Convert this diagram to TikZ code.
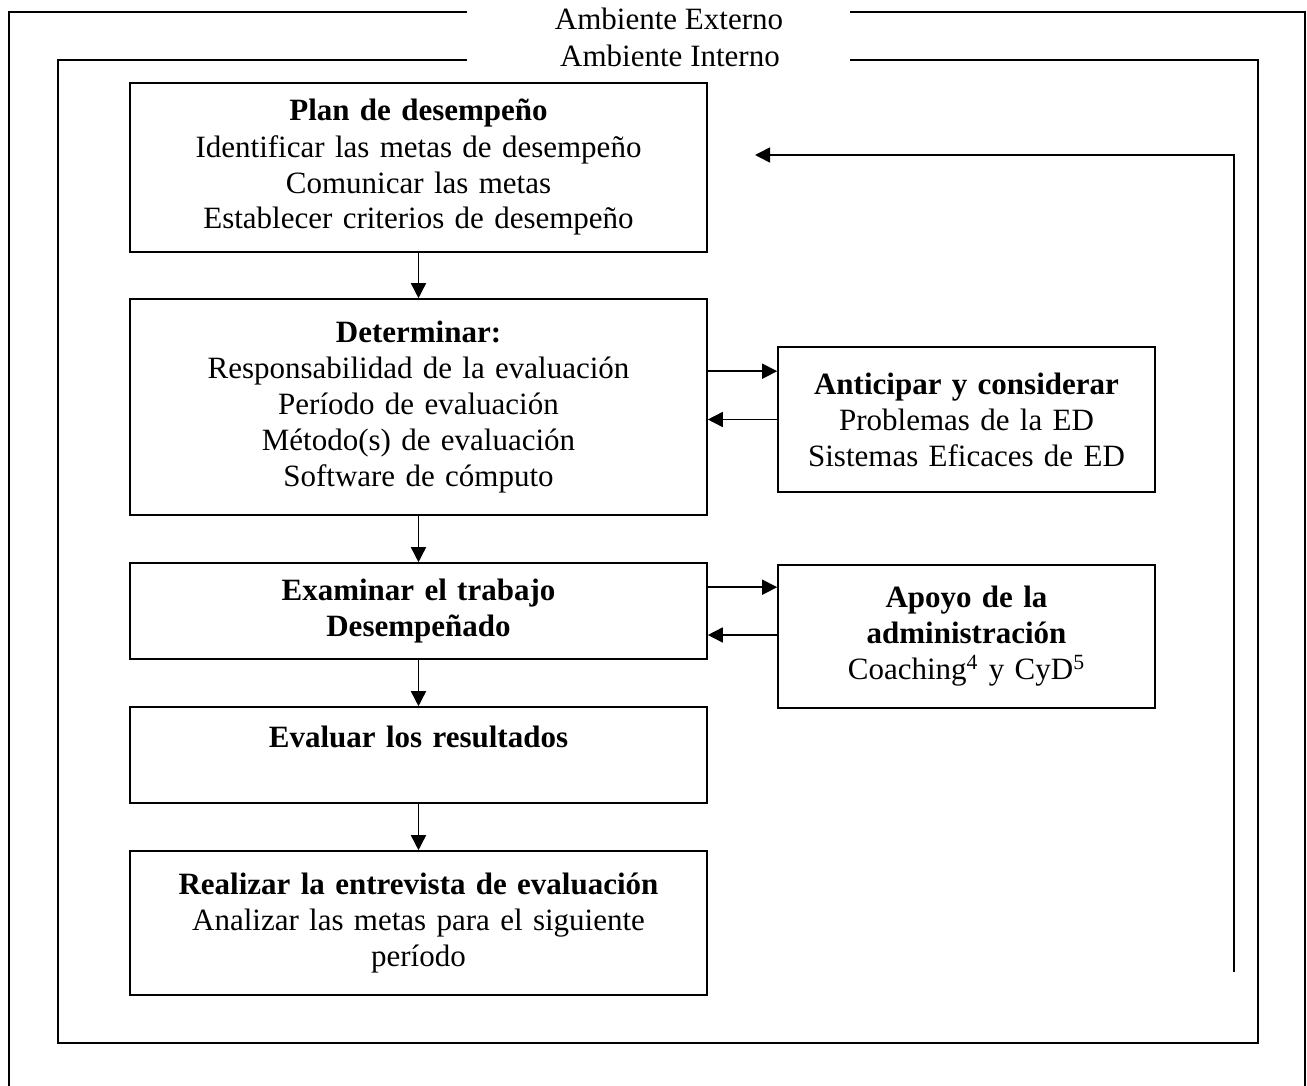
\documentclass[tikz,border=0pt]{standalone}
\usepackage{fontspec}
\setmainfont{Liberation Serif}
\usetikzlibrary{arrows.meta}

\begin{document}
\begin{tikzpicture}[x=0.5pt,y=-0.5pt,>={Triangle[length=7.5pt,width=7.5pt]},font=\fontsize{15.5}{18}\selectfont]
  \tikzstyle{frame}=[line width=1pt]
  \tikzstyle{box}=[draw,line width=0.8pt,align=center,inner sep=0pt]
  \tikzstyle{mainbox}=[box,minimum width=288.5pt,text width=284pt]
  \tikzstyle{sidebox}=[box,minimum width=188.5pt,text width=184pt]
  \tikzstyle{e}=[->,line width=0.8pt]

  \useasboundingbox (0,0) rectangle (1307,1086);

  % environment frames
  \draw[frame] (467,12) -- (9,12) -- (9,1090);
  \draw[frame] (850,12) -- (1305,12) -- (1305,1090);
  \draw[frame] (467,60) -- (58,60) -- (58,1043) -- (1258,1043) -- (1258,60) -- (850,60);
  \node (ext) at (669,19) {Ambiente Externo};
  \node (int) at (670,56) {Ambiente Interno};

  % process boxes
  \node[mainbox,minimum height=84.5pt] (plan) at (418.5,167.5)
    {\textbf{Plan de desempeño}\\Identificar las metas de desempeño\\Comunicar las metas\\Establecer criterios de desempeño};
  \node[mainbox,minimum height=108pt]  (det)  at (418.5,407)
    {\textbf{Determinar:}\\Responsabilidad de la evaluación\\Período de evaluación\\Método(s) de evaluación\\Software de cómputo};
  \node[mainbox,minimum height=48pt]   (exam) at (418.5,611)
    {\textbf{Examinar el trabajo}\\\textbf{Desempeñado}};
  \node[mainbox,minimum height=48pt]   (eval) at (418.5,755)
    {\textbf{Evaluar los resultados}\\\mbox{}};
  \node[mainbox,minimum height=72pt]   (entrev) at (418.5,923)
    {\textbf{Realizar la entrevista de evaluación}\\Analizar las metas para el siguiente\\período};

  % side boxes
  \node[sidebox,minimum height=72.5pt] (antic) at (966.5,419.5)
    {\textbf{Anticipar y considerar}\\Problemas de la ED\\Sistemas Eficaces de ED};
  \node[sidebox,minimum height=71.5pt] (apoyo) at (966.5,636.5)
    {\textbf{Apoyo de la}\\\textbf{administración}\\Coaching\textsuperscript{4} y CyD\textsuperscript{5}};

  \coordinate (a1) at ([yshift=-12.5pt]antic.north west);
  \coordinate (a2) at ([yshift=-11.5pt]apoyo.north west);
  \coordinate (a3) at ([yshift=0.75pt]apoyo.west);
  \coordinate (fb0) at (1234,972);
  \coordinate (fb1) at (755,155);

  % connectors
  \draw[e] (plan) -- (det);
  \draw[e] (det) -- (exam);
  \draw[e] (exam) -- (eval);
  \draw[e] (eval) -- (entrev);
  \draw[e] (det.east |- a1) -- (a1);
  \draw[e] (antic.west) -- (det.east |- antic.west);
  \draw[e] (exam.east |- a2) -- (a2);
  \draw[e] (a3) -- (exam.east |- a3);
  \draw[e] (fb0) |- (fb1);
\end{tikzpicture}
\end{document}
